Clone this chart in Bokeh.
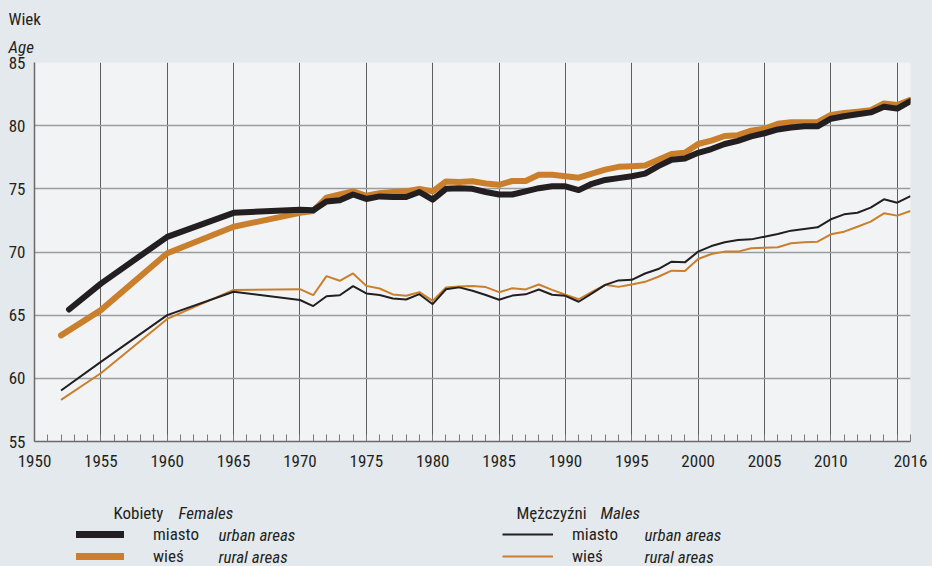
from bokeh.plotting import figure
from bokeh.models import (Range1d, FixedTicker, Label, Legend, LegendItem, Title)
from bokeh.layouts import column
from bokeh.embed import file_html
from bokeh.resources import INLINE

# ---------------- data ----------------
years = [1952, 1955, 1960, 1965, 1970, 1971, 1972, 1973, 1974, 1975, 1976, 1977, 1978,
         1979, 1980, 1981, 1982, 1983, 1984, 1985, 1986, 1987, 1988, 1989, 1990, 1991,
         1992, 1993, 1994, 1995, 1996, 1997, 1998, 1999, 2000, 2001, 2002, 2003, 2004,
         2005, 2006, 2007, 2008, 2009, 2010, 2011, 2012, 2013, 2014, 2015, 2016]
years_female_urban = [1952.6] + years[1:]

female_urban = [65.45, 67.5, 71.2, 73.1, 73.35, 73.3, 74.0, 74.1, 74.55, 74.2, 74.4, 74.35, 74.35,
                74.75, 74.15, 75.0, 75.05, 75.0, 74.75, 74.55, 74.55, 74.8, 75.05, 75.2, 75.2, 74.9,
                75.4, 75.7, 75.85, 76.0, 76.2, 76.8, 77.3, 77.4, 77.85, 78.15, 78.55, 78.8, 79.15,
                79.4, 79.7, 79.85, 79.95, 79.95, 80.55, 80.75, 80.9, 81.05, 81.5, 81.35, 81.95]
female_rural = [63.4, 65.4, 69.9, 72.0, 73.1, 73.25, 74.3, 74.55, 74.8, 74.45, 74.65, 74.75, 74.8,
                75.0, 74.8, 75.58, 75.55, 75.6, 75.42, 75.32, 75.62, 75.62, 76.12, 76.12, 76.0, 75.88,
                76.2, 76.52, 76.74, 76.78, 76.84, 77.3, 77.75, 77.85, 78.55, 78.82, 79.18, 79.25, 79.6,
                79.76, 80.15, 80.28, 80.28, 80.28, 80.85, 81.0, 81.1, 81.22, 81.76, 81.63, 82.05]
male_urban = [59.04, 61.3, 65.0, 66.85, 66.2, 65.72, 66.5, 66.58, 67.3, 66.72, 66.6, 66.32, 66.24,
              66.66, 65.87, 67.05, 67.2, 66.93, 66.6, 66.22, 66.55, 66.65, 67.03, 66.62, 66.53, 66.06,
              66.72, 67.4, 67.75, 67.8, 68.3, 68.65, 69.23, 69.18, 70.03, 70.47, 70.77, 70.95, 71.0,
              71.21, 71.42, 71.69, 71.82, 71.95, 72.59, 72.98, 73.11, 73.51, 74.17, 73.9, 74.43]
male_rural = [58.3, 60.4, 64.7, 67.0, 67.06, 66.58, 68.09, 67.72, 68.3, 67.32, 67.11, 66.64, 66.53,
              66.82, 66.13, 67.19, 67.27, 67.3, 67.22, 66.82, 67.13, 67.04, 67.43, 67.0, 66.62, 66.26,
              66.85, 67.4, 67.24, 67.42, 67.64, 68.04, 68.52, 68.5, 69.45, 69.84, 70.03, 70.03, 70.29,
              70.34, 70.37, 70.69, 70.77, 70.82, 71.4, 71.61, 72.0, 72.4, 73.06, 72.88, 73.25]

x_label_ticks = [1950, 1955, 1960, 1965, 1970, 1975, 1980, 1985, 1990, 1995, 2000, 2005, 2010, 2016]
x_grid_ticks = [1950, 1955, 1960, 1965, 1970, 1975, 1980, 1985, 1990, 1995, 2000, 2005, 2010, 2015, 2016]
x_minor_ticks = list(range(1950, 2017))
y_ticks = [55, 60, 65, 70, 75, 80, 85]

# ---------------- style ----------------
FONT = "'Roboto Condensed', 'DejaVu Sans Condensed', 'Liberation Sans Narrow', sans-serif"
FS = "17px"
BLACK = "#231f20"
ORANGE = "#c97f2c"
OUTER_BG = "#e4e9ed"
INNER_BG = "#f1f3f5"
TXT = "#231f20"

W = 932
H_MAIN = 490
H_LEG = 76

p = figure(width=W, height=H_MAIN, output_backend="svg", toolbar_location=None,
           x_range=Range1d(1950, 2016), y_range=Range1d(55, 85),
           min_border_left=34, min_border_right=22, min_border_top=62, min_border_bottom=49)
p.background_fill_color = INNER_BG
p.border_fill_color = OUTER_BG
p.outline_line_color = None

# axis title "Wiek" / "Age" as stacked titles above the frame
p.add_layout(Title(text="Age", align="left", offset=-26, standoff=12, text_font=FONT,
                   text_font_size=FS, text_font_style="italic", text_color=TXT), "above")
p.add_layout(Title(text="Wiek", align="left", offset=-26, standoff=0, text_font=FONT,
                   text_font_size=FS, text_font_style="normal", text_color=TXT,
                   text_line_height=0.55), "above")

# axes
p.xaxis.ticker = FixedTicker(ticks=x_label_ticks, minor_ticks=x_minor_ticks)
p.yaxis.ticker = FixedTicker(ticks=y_ticks)
for ax in (p.xaxis[0], p.yaxis[0]):
    ax.axis_line_color = "#6a6a6a"
    ax.axis_line_width = 1.5
    ax.major_tick_in = 0
    ax.major_tick_out = 0
    ax.major_label_text_font = FONT
    ax.major_label_text_font_size = FS
    ax.major_label_text_color = TXT
p.xaxis.minor_tick_in = 7
p.xaxis.minor_tick_out = 0
p.xaxis.minor_tick_line_color = "#7a7a7a"
p.xaxis.major_label_standoff = 13
p.yaxis.minor_tick_in = 0
p.yaxis.minor_tick_out = 0
p.yaxis.major_label_standoff = 9

# grids
p.xgrid.ticker = FixedTicker(ticks=x_grid_ticks)
p.xgrid.grid_line_color = "#5e5e5e"
p.xgrid.grid_line_width = 1
p.ygrid.grid_line_color = "#9c9c9c"
p.ygrid.grid_line_width = 1.5

# lines
p.line(years, female_rural, line_color=ORANGE, line_width=6, line_cap="round", line_join="round")
p.line(years_female_urban, female_urban, line_color=BLACK, line_width=6, line_cap="round", line_join="round")
p.line(years, male_rural, line_color=ORANGE, line_width=2)
p.line(years, male_urban, line_color=BLACK, line_width=2)

# ---------------- legend panel (separate figure below) ----------------
# its frame is aligned with the main frame (page x 34..910); data x = page x,
# data y = page y - H_MAIN (range flipped so y grows downward)
lf = figure(width=W, height=H_LEG, output_backend="svg", toolbar_location=None,
            x_range=Range1d(34, 910), y_range=Range1d(H_LEG, 0),
            x_axis_location=None, y_axis_location=None,
            min_border_left=34, min_border_right=22, min_border_top=0, min_border_bottom=0)
lf.background_fill_color = OUTER_BG
lf.border_fill_color = OUTER_BG
lf.outline_line_color = None
lf.xgrid.visible = False
lf.ygrid.visible = False

# invisible renderers carrying the line styles for the legend swatches
nan = float("nan")
l_fu = lf.line(x=[nan], y=[nan], line_color=BLACK, line_width=7, line_cap="round")
l_fr = lf.line(x=[nan], y=[nan], line_color=ORANGE, line_width=7, line_cap="round")
l_mu = lf.line(x=[nan], y=[nan], line_color=BLACK, line_width=2)
l_mr = lf.line(x=[nan], y=[nan], line_color=ORANGE, line_width=2)

def make_legend(items, x, glyph_w, standoff):
    leg = Legend(items=items, location=(x, 0), orientation="vertical",
                 glyph_width=glyph_w, glyph_height=20, label_height=20, spacing=2,
                 padding=0, margin=0, label_standoff=standoff,
                 border_line_color=None, background_fill_alpha=0,
                 label_text_font=FONT, label_text_font_size=FS, label_text_color=TXT)
    lf.add_layout(leg, "center")

# legend location is in pixels from the frame's left edge (page x 34)
make_legend([LegendItem(label="miasto", renderers=[l_fu]),
             LegendItem(label="wieś", renderers=[l_fr])], 76 - 34, 48, 29)
make_legend([LegendItem(label="miasto", renderers=[l_mu]),
             LegendItem(label="wieś", renderers=[l_mr])], 502 - 34, 51, 19)

def add_text(text, x, y, italic=False):
    lf.add_layout(Label(x=x, y=y, text=text, text_font=FONT, text_font_size=FS,
                        text_color=TXT, text_font_style="italic" if italic else "normal",
                        text_baseline="middle", text_align="left"))

add_text("Kobiety", 113, 22)
add_text("Females", 178, 22, italic=True)
add_text("urban areas", 218, 44, italic=True)
add_text("rural areas", 218, 66, italic=True)
add_text("Mężczyźni", 516, 22)
add_text("Males", 600, 22, italic=True)
add_text("urban areas", 644, 44, italic=True)
add_text("rural areas", 644, 66, italic=True)

layout = column(p, lf, spacing=0, styles={"background-color": OUTER_BG})
open("out.html", "w").write(file_html(layout, INLINE))
